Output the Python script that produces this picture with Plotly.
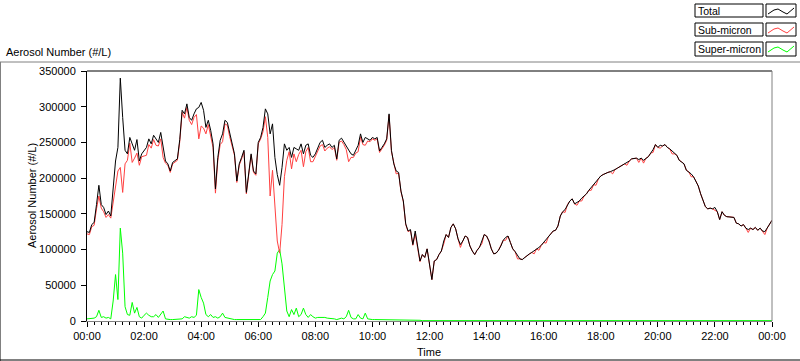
import plotly.graph_objects as go
import pandas as pd

# ---------------- data (5-minute samples, 00:00 -> 24:00) ----------------
total = [
    125000, 124000, 135000, 138000, 163000, 190000, 163000, 159000, 149000, 154000, 147000, 192000,
    224000, 243000, 340000, 285000, 239000, 234000, 257000, 248000, 239000, 254000, 224000, 234000,
    239000, 243000, 255000, 248000, 260000, 255000, 250000, 264000, 243000, 224000, 220000, 210000,
    222000, 224000, 227000, 254000, 295000, 290000, 304000, 285000, 281000, 290000, 297000, 299000,
    306000, 295000, 271000, 281000, 267000, 248000, 185000, 229000, 253000, 262000, 281000, 278000,
    262000, 248000, 234000, 196000, 220000, 229000, 239000, 180000, 206000, 234000, 210000, 206000,
    250000, 257000, 271000, 297000, 290000, 262000, 276000, 229000, 205000, 190000, 215000, 248000,
    239000, 243000, 229000, 243000, 241000, 239000, 248000, 234000, 246000, 248000, 232000, 229000,
    234000, 243000, 250000, 253000, 243000, 246000, 248000, 243000, 246000, 227000, 253000, 256000,
    250000, 246000, 238000, 234000, 232000, 238000, 246000, 262000, 250000, 257000, 255000, 253000,
    257000, 255000, 257000, 238000, 243000, 248000, 255000, 290000, 239000, 220000, 210000, 208000,
    182000, 168000, 136000, 126000, 128000, 107000, 126000, 103000, 84000, 93000, 89000, 101000,
    80000, 58000, 84000, 86000, 93000, 98000, 112000, 121000, 117000, 131000, 136000, 129000,
    115000, 107000, 112000, 119000, 117000, 105000, 98000, 93000, 99000, 103000, 112000, 121000,
    119000, 112000, 101000, 94000, 95000, 99000, 105000, 113000, 117000, 119000, 110000, 101000,
    97000, 91000, 87000, 86000, 89000, 91000, 94000, 96000, 98000, 101000, 103000, 106000,
    110000, 113000, 118000, 122000, 126000, 127000, 133000, 147000, 153000, 156000, 163000, 168000,
    171000, 164000, 166000, 168000, 172000, 175000, 178000, 183000, 187000, 191000, 194000, 199000,
    203000, 205000, 207000, 208000, 209000, 210000, 212000, 214000, 216000, 217000, 220000, 222000,
    224000, 227000, 228000, 228000, 226000, 228000, 225000, 228000, 230000, 235000, 240000, 247000,
    243000, 246000, 245000, 247000, 243000, 241000, 238000, 234000, 232000, 225000, 223000, 220000,
    211000, 209000, 206000, 202000, 196000, 189000, 178000, 168000, 160000, 157000, 158000, 157000,
    159000, 153000, 142000, 153000, 148000, 146000, 146000, 146000, 145000, 137000, 136000, 133000,
    135000, 130000, 128000, 130000, 128000, 131000, 127000, 130000, 126000, 125000, 130000, 136000,
    141000,
]

sub_micron = [
    122000, 121000, 132000, 134000, 157000, 175000, 158000, 153000, 145000, 149000, 144000, 164000,
    185000, 210000, 215000, 180000, 220000, 225000, 249000, 222000, 228000, 235000, 218000, 230000,
    231000, 232000, 247000, 242000, 254000, 246000, 245000, 255000, 229000, 221000, 218000, 208000,
    220000, 222000, 225000, 251000, 292000, 284000, 299000, 281000, 275000, 285000, 289000, 255000,
    273000, 270000, 262000, 275000, 258000, 243000, 179000, 225000, 247000, 251000, 276000, 274000,
    258000, 245000, 232000, 194000, 218000, 227000, 237000, 178000, 204000, 232000, 208000, 204000,
    248000, 255000, 265000, 286000, 257000, 175000, 211000, 159000, 112000, 95000, 135000, 202000,
    225000, 237000, 213000, 234000, 223000, 233000, 239000, 216000, 237000, 243000, 223000, 223000,
    230000, 238000, 245000, 247000, 238000, 242000, 244000, 240000, 243000, 225000, 250000, 252000,
    247000, 240000, 223000, 229000, 229000, 235000, 237000, 258000, 247000, 246000, 252000, 251000,
    255000, 253000, 255000, 236000, 241000, 246000, 253000, 288000, 237000, 219000, 206000, 207000,
    181000, 167000, 135000, 125000, 127000, 106000, 122000, 102000, 83000, 93000, 89000, 101000,
    80000, 58000, 84000, 86000, 93000, 98000, 108000, 121000, 117000, 131000, 136000, 129000,
    115000, 103000, 112000, 119000, 117000, 105000, 98000, 93000, 99000, 103000, 108000, 121000,
    119000, 112000, 101000, 94000, 95000, 99000, 105000, 113000, 113000, 119000, 110000, 101000,
    97000, 87000, 87000, 86000, 89000, 91000, 94000, 96000, 94000, 101000, 99000, 106000,
    110000, 109000, 118000, 122000, 126000, 127000, 133000, 147000, 153000, 152000, 163000, 168000,
    171000, 164000, 162000, 168000, 168000, 175000, 178000, 183000, 183000, 191000, 190000, 199000,
    203000, 205000, 207000, 208000, 209000, 206000, 212000, 214000, 216000, 217000, 220000, 218000,
    224000, 227000, 228000, 228000, 222000, 228000, 221000, 228000, 230000, 235000, 236000, 247000,
    243000, 242000, 245000, 247000, 243000, 241000, 234000, 234000, 232000, 225000, 223000, 220000,
    211000, 209000, 202000, 202000, 196000, 189000, 178000, 168000, 160000, 157000, 158000, 157000,
    155000, 153000, 142000, 153000, 148000, 146000, 146000, 146000, 145000, 137000, 136000, 133000,
    135000, 130000, 124000, 130000, 128000, 131000, 127000, 130000, 126000, 121000, 130000, 136000,
    141000,
]

super_micron = [
    3000, 3000, 3000, 4000, 6000, 15000, 5000, 6000, 4000, 5000, 3000, 28000,
    65000, 30000, 130000, 95000, 20000, 9000, 8000, 26000, 11000, 19000, 6000, 4000,
    8000, 11000, 8000, 6000, 6000, 9000, 5000, 9000, 14000, 3000, 2000, 2000,
    2000, 2000, 2000, 3000, 3000, 6000, 5000, 4000, 6000, 5000, 8000, 44000,
    33000, 25000, 9000, 6000, 9000, 5000, 6000, 4000, 6000, 11000, 5000, 4000,
    4000, 3000, 2000, 2000, 2000, 2000, 2000, 2000, 2000, 2000, 2000, 2000,
    2000, 2000, 6000, 11000, 33000, 56000, 65000, 70000, 95000, 100000, 80000, 46000,
    14000, 6000, 16000, 9000, 18000, 6000, 9000, 18000, 9000, 5000, 9000, 6000,
    4000, 5000, 5000, 6000, 5000, 4000, 4000, 3000, 3000, 2000, 3000, 4000,
    3000, 6000, 15000, 5000, 3000, 3000, 9000, 4000, 3000, 11000, 3000, 2000,
    2000, 2000, 2000, 2000, 2000, 2000, 2000, 2000, 2000, 1000, 1000, 1000,
    1000, 1000, 1000, 1000, 1000, 1000, 1000, 1000, 1000, 500, 500, 500,
    500, 500, 500, 500, 500, 500, 500, 500, 500, 500, 500, 500,
    500, 500, 500, 500, 500, 500, 500, 500, 500, 500, 500, 500,
    500, 500, 500, 500, 500, 500, 500, 500, 500, 500, 500, 500,
    500, 500, 500, 500, 500, 500, 500, 500, 500, 500, 500, 500,
    500, 500, 500, 500, 500, 500, 500, 500, 500, 500, 500, 500,
    500, 500, 500, 500, 500, 500, 500, 500, 500, 500, 500, 500,
    500, 500, 500, 500, 500, 500, 500, 500, 500, 500, 500, 500,
    500, 500, 500, 500, 500, 500, 500, 500, 500, 500, 500, 500,
    500, 500, 500, 500, 500, 500, 500, 500, 500, 500, 500, 500,
    500, 500, 500, 500, 500, 500, 500, 500, 500, 500, 500, 500,
    500, 500, 500, 500, 500, 500, 500, 500, 500, 500, 500, 500,
    500, 500, 500, 500, 500, 500, 500, 500, 500, 500, 500, 500,
    500,
]

series_names = ["Total", "Sub-micron", "Super-micron"]
y_tick_vals = [0, 50000, 100000, 150000, 200000, 250000, 300000, 350000]
y_tick_text = ["0", "50000", "100000", "150000", "200000", "250000", "300000", "350000"]

times = pd.date_range("2000-01-01 00:00", periods=len(total), freq="5min")

# ---------------- figure ----------------
W, H = 800, 361
L, R, T, B = 87, 772, 71, 321


def PX(x):
    return (x - L) / (R - L)


def PY(y):
    return (B - y) / (B - T)


FONT = "Liberation Sans, Arial, sans-serif"

fig = go.Figure()
fig.add_trace(go.Scatter(x=times, y=super_micron, mode="lines", name=series_names[2],
                         line=dict(color="#00FF00", width=1)))
fig.add_trace(go.Scatter(x=times, y=sub_micron, mode="lines", name=series_names[1],
                         line=dict(color="#FF4040", width=1)))
fig.add_trace(go.Scatter(x=times, y=total, mode="lines", name=series_names[0],
                         line=dict(color="#000000", width=1)))

fig.update_layout(
    width=W, height=H,
    margin=dict(l=L, r=W - R, t=T, b=H - B, autoexpand=False),
    paper_bgcolor="white", plot_bgcolor="white",
    showlegend=False,
    font=dict(family=FONT, size=11, color="black"),
)

fig.update_xaxes(
    type="date", range=[times[0], times[-1]], automargin=False,
    tickformat="%H:%M", dtick=7200000, tick0="2000-01-01 00:00",
    ticks="outside", ticklen=5, tickcolor="black", tickwidth=1,
    tickfont=dict(family=FONT, size=11, color="black"),
    minor=dict(dtick=900000, ticks="outside", ticklen=3, tickcolor="black", showgrid=False),
    showgrid=False, zeroline=False,
    showline=True, linecolor="#808080", linewidth=1,
)
fig.update_yaxes(
    range=[0, 350000], tickvals=y_tick_vals, ticktext=y_tick_text, automargin=False,
    ticks="outside", ticklen=5, tickcolor="black", tickwidth=1, ticklabelstandoff=3,
    tickfont=dict(family=FONT, size=11, color="black"),
    showgrid=False, zeroline=False,
    showline=True, linecolor="black", linewidth=1,
)

shapes = []
# plot frame: top black, right grey
shapes.append(dict(type="line", xref="paper", yref="paper", x0=0, x1=1, y0=1, y1=1,
                   line=dict(color="black", width=1)))
shapes.append(dict(type="line", xref="paper", yref="paper", x0=1, x1=1, y0=0, y1=1,
                   line=dict(color="#808080", width=1)))
# outer panel
shapes.append(dict(type="line", xref="paper", yref="paper", x0=PX(0), x1=PX(800), y0=PY(62), y1=PY(62),
                   line=dict(color="#808080", width=1)))
shapes.append(dict(type="line", xref="paper", yref="paper", x0=PX(0.5), x1=PX(0.5), y0=PY(62), y1=PY(361),
                   line=dict(color="#808080", width=1)))
shapes.append(dict(type="line", xref="paper", yref="paper", x0=PX(0), x1=PX(800), y0=PY(360), y1=PY(360),
                   line=dict(color="black", width=1)))

annotations = []
legend_rows = [(4, 17), (23, 36), (42, 56)]
legend_colors = ["#000000", "#FF4040", "#00FF00"]
for name, (ya, yb), col in zip(series_names, legend_rows, legend_colors):
    shapes.append(dict(type="rect", xref="paper", yref="paper",
                       x0=PX(695), x1=PX(763), y0=PY(yb), y1=PY(ya),
                       line=dict(color="black", width=1), fillcolor="white"))
    shapes.append(dict(type="rect", xref="paper", yref="paper",
                       x0=PX(766), x1=PX(796), y0=PY(yb), y1=PY(ya),
                       line=dict(color="black", width=1), fillcolor="white"))
    pts = [(768, ya + 10), (774, ya + 6), (778, ya + 5), (783, ya + 8), (787, ya + 10), (794, ya + 4)]
    path = "M " + " L ".join(f"{PX(px):.5f},{PY(py):.5f}" for px, py in pts)
    shapes.append(dict(type="path", xref="paper", yref="paper", path=path,
                       line=dict(color=col, width=1)))
    annotations.append(dict(xref="paper", yref="paper", x=PX(696), y=PY((ya + yb) / 2 + 0.5),
                            xanchor="left", yanchor="middle", showarrow=False, text=name,
                            font=dict(family=FONT, size=10.5, color="black")))

annotations.append(dict(xref="paper", yref="paper", x=PX(4), y=PY(52), xanchor="left", yanchor="middle",
                        showarrow=False, text="Aerosol Number (#/L)",
                        font=dict(family=FONT, size=11, color="black")))
annotations.append(dict(xref="paper", yref="paper", x=PX(32), y=PY(196), xanchor="center", yanchor="middle",
                        showarrow=False, text="Aerosol Number (#/L)", textangle=-90,
                        font=dict(family=FONT, size=11, color="black")))
annotations.append(dict(xref="paper", yref="paper", x=PX(429), y=PY(352), xanchor="center", yanchor="middle",
                        showarrow=False, text="Time",
                        font=dict(family=FONT, size=11, color="black")))

fig.update_layout(shapes=shapes, annotations=annotations)

fig.write_html("out.html", config={"displayModeBar": False},
               post_script="document.body.style.margin='0';document.body.style.overflow='hidden';")
